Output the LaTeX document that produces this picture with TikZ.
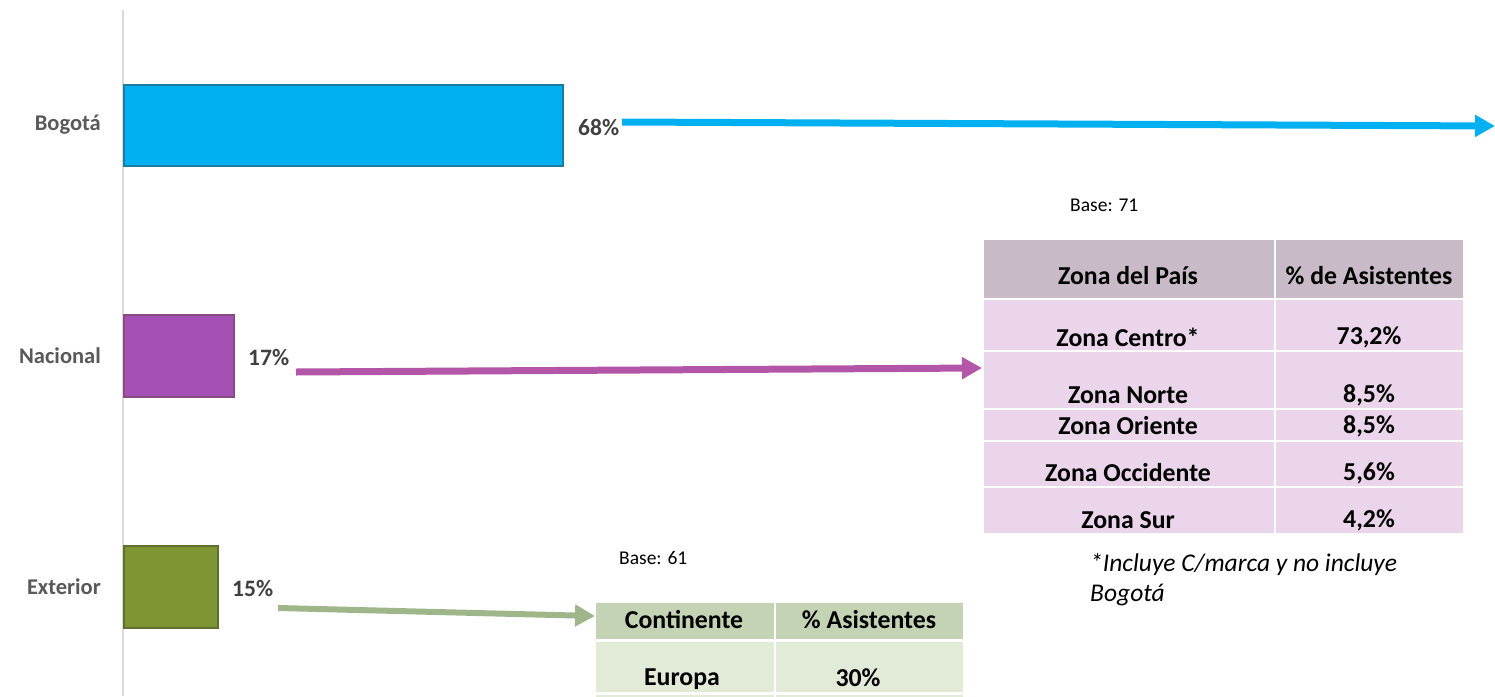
\documentclass[tikz,border=0pt]{standalone}
\usepackage{fontspec}
\setmainfont{Carlito}
\usetikzlibrary{arrows.meta}

\definecolor{bogblue}{HTML}{00B0F0}
\definecolor{bogedge}{HTML}{1A7C9E}
\definecolor{nacpurple}{HTML}{A450B4}
\definecolor{nacedge}{HTML}{8A4A80}
\definecolor{extolive}{HTML}{7F9433}
\definecolor{extedge}{HTML}{5E6F2E}
\definecolor{nacarrow}{HTML}{B456A7}
\definecolor{extarrow}{HTML}{9FB58A}
\definecolor{zonahead}{HTML}{C9BAC7}
\definecolor{zonarow}{HTML}{EBD5EA}
\definecolor{conthead}{HTML}{C4D3B3}
\definecolor{controw}{HTML}{E2EAD8}
\definecolor{labelgray}{HTML}{595959}
\definecolor{pctgray}{HTML}{404040}
\definecolor{axisgray}{HTML}{D9D9D9}

\tikzset{
	catlabel/.style={font=\bfseries\fontsize{22.5}{26}\selectfont, text=labelgray, anchor=east, inner sep=0pt},
	pctlabel/.style={font=\bfseries\fontsize{23.5}{27}\selectfont, text=pctgray, anchor=west, inner sep=0pt},
	cell/.style={font=\bfseries\fontsize{25.8}{30}\selectfont, inner sep=0pt},
	basenote/.style={font=\fontsize{19.5}{23}\selectfont, anchor=west, inner sep=0pt},
	flow/.style={line width=7pt, -{Triangle[length=20pt,width=21pt]}},
}

\begin{document}
\begin{tikzpicture}[x=1pt,y=-1pt]
			%%%%% START %%%%%
			\useasboundingbox (0,0) rectangle (1495,696);
			
			\draw[axisgray, line width=1.5pt] (123,10) -- (123,696);
			
			% bars
			\draw[fill=bogblue, draw=bogedge, line width=2pt] (124,85) rectangle (563,166);
			\draw[fill=nacpurple, draw=nacedge, line width=2pt] (124,315) rectangle (234,397);
			\draw[fill=extolive, draw=extedge, line width=2pt] (124,546) rectangle (218,628);
			
			\node[catlabel] (bogota) at (101,125) {Bogotá};
			\node[catlabel] (nacional) at (101,356) {Nacional};
			\node[catlabel] (exterior) at (101,587) {Exterior};
			
			\node[pctlabel] (pct68) at (578,127) {68\%};
			\node[pctlabel] (pct17) at (248,357) {17\%};
			\node[pctlabel] (pct15) at (232,588) {15\%};
			
			% tabla zonas
			\node[basenote] (base71) at (1070,205) {Base: 71};
			\fill[zonahead] (984,240) rectangle (1274,298);
			\fill[zonahead] (1276,240) rectangle (1463,298);
			\foreach \ya/\yb in {300/350, 352/408, 410/440, 442/486, 488/533}{
				\fill[zonarow] (984,\ya) rectangle (1274,\yb);
				\fill[zonarow] (1276,\ya) rectangle (1463,\yb);
			}
			\node[cell] (zhead) at (1128,276) {Zona del País};
			\node[cell] (phead) at (1369,276) {\% de Asistentes};
			\node[cell] (zcentro) at (1128,337) {Zona Centro*};
			\node[cell] (pcentro) at (1369,337) {73,2\%};
			\node[cell] (znorte) at (1128,395) {Zona Norte};
			\node[cell] (pnorte) at (1369,395) {8,5\%};
			\node[cell] (zoriente) at (1128,426) {Zona Oriente};
			\node[cell] (poriente) at (1369,426) {8,5\%};
			\node[cell] (zoccid) at (1128,473) {Zona Occidente};
			\node[cell] (poccid) at (1369,473) {5,6\%};
			\node[cell] (zsur) at (1128,520) {Zona Sur};
			\node[cell] (psur) at (1369,520) {4,2\%};
			\node[font=\itshape\fontsize{25.5}{30}\selectfont, anchor=west, align=left, inner sep=0pt] (nota) at (1090,580) {*Incluye C/marca y no incluye\\Bogotá};
			
			% tabla continentes
			\node[basenote] (base61) at (619,558) {Base: 61};
			\fill[conthead] (596,603) rectangle (774,639);
			\fill[conthead] (776,603) rectangle (963,639);
			\fill[controw] (596,642) rectangle (774,692);
			\fill[controw] (776,642) rectangle (963,692);
			\fill[controw] (596,695) rectangle (774,700);
			\fill[controw] (776,695) rectangle (963,700);
			\node[cell] (chead) at (684,620) {Continente};
			\node[cell] (ahead) at (869,620) {\% Asistentes};
			\node[cell] (europa) at (682,679) {Europa};
			\node[cell] (peuropa) at (858,678) {30\%};
			
			% flechas
			\coordinate (bogStart) at (622,122);
			\coordinate (bogEnd) at (1495,126);
			\coordinate (nacStart) at (296,372);
			\coordinate (nacEnd) at (982,368);
			\coordinate (extStart) at (278,608);
			\coordinate (extEnd) at (595,616);
			\draw[flow, bogblue] (bogStart) -- (bogEnd);
			\draw[flow, nacarrow] (nacStart) -- (nacEnd);
			\draw[flow, extarrow, line width=6pt] (extStart) -- (extEnd);
			%%%%% END %%%%%
\end{tikzpicture}
\end{document}
